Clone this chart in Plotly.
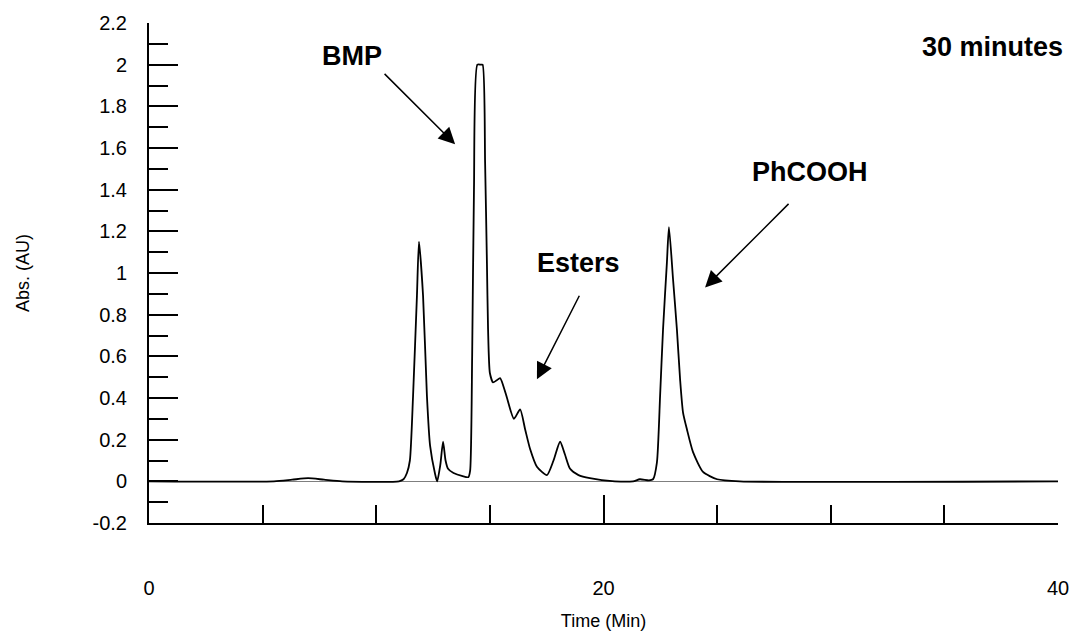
import plotly.graph_objects as go

# Chromatogram values (time in minutes, absorbance in AU)
time_min = [0, 5.5, 6.3, 7.0, 7.7, 8.5, 11.0, 11.2, 11.35, 11.48, 11.62, 11.79, 11.88,
            12.06, 12.23, 12.37, 12.58, 12.68, 12.82, 12.94, 13.05, 13.16, 13.4, 13.8,
            14.05, 14.13, 14.22, 14.3, 14.45, 14.6, 14.68, 14.79, 14.87, 14.92, 15.0,
            15.14, 15.3, 15.45, 15.7, 16.06, 16.33, 16.55, 16.77, 17.07, 17.51, 17.8,
            18.09, 18.3, 18.53, 18.9, 19.4, 20.5, 21.3, 21.6, 22.0, 22.18, 22.35, 22.49,
            22.62, 22.79, 22.88, 23.06, 23.23, 23.37, 23.5, 23.67, 23.94, 24.38, 25.0,
            26.0, 40.0]
absorbance = [0, 0, 0.008, 0.015, 0.008, 0, 0, 0.01, 0.04, 0.1, 0.41, 0.89, 1.15,
              0.89, 0.41, 0.17, 0.04, 0.0, 0.08, 0.19, 0.1, 0.06, 0.04, 0.025,
              0.02, 0.05, 0.6, 1.4, 2.0, 2.0, 2.0, 1.53, 1.05, 0.73, 0.52,
              0.475, 0.485, 0.495, 0.42, 0.30, 0.345, 0.25, 0.155, 0.07, 0.03, 0.1,
              0.19, 0.13, 0.06, 0.03, 0.015, 0.0, 0.0, 0.01, 0.005, 0.01, 0.09, 0.41,
              0.73, 1.05, 1.22, 0.97, 0.73, 0.49, 0.33, 0.25, 0.14, 0.045, 0.01,
              0.0, 0.0]

y_tickvals = [-0.2, 0, 0.2, 0.4, 0.6, 0.8, 1.0, 1.2, 1.4, 1.6, 1.8, 2.0, 2.2]
y_ticktext = ["-0.2", "0", "0.2", "0.4", "0.6", "0.8", "1", "1.2", "1.4", "1.6", "1.8", "2", "2.2"]
x_tickvals = [0, 20, 40]
x_ticktext = ["0", "20", "40"]

# labels: (text, x, y) and arrows: (tail x, tail y, head x, head y) in data units
peak_labels = [("BMP", 8.93, 2.04), ("Esters", 18.92, 1.047), ("PhCOOH", 29.09, 1.483),
               ("30 minutes", 37.1, 2.083)]
arrows = [(10.30, 1.963, 13.47, 1.618), (18.97, 0.898, 17.07, 0.49), (28.21, 1.339, 24.47, 0.931)]

FONT = "Liberation Sans, Arial, sans-serif"

fig = go.Figure()
fig.add_trace(go.Scatter(x=time_min, y=absorbance, mode="lines",
                         line=dict(color="black", width=1.8, shape="spline", smoothing=0.6),
                         showlegend=False, hoverinfo="skip"))

fig.update_layout(
    width=1074, height=639,
    margin=dict(l=149, r=16, t=23, b=116),
    plot_bgcolor="white", paper_bgcolor="white",
    font=dict(family=FONT, color="black"),
    showlegend=False,
)

fig.update_xaxes(
    range=[0, 40], showgrid=False, zeroline=False,
    showline=True, linecolor="black", linewidth=1.5,
    ticks="inside", ticklen=28, tickwidth=1.5, tickcolor="black",
    tickvals=x_tickvals, ticktext=x_ticktext,
    tickfont=dict(size=20, family=FONT),
    ticklabelstandoff=46,
    minor=dict(ticks="inside", ticklen=18, tickwidth=1.5, tickcolor="black", dtick=5, tick0=0),
    title=dict(text="Time (Min)", font=dict(size=18, family=FONT), standoff=17),
    automargin=False,
)
fig.update_yaxes(
    range=[-0.2, 2.2], showgrid=False,
    zeroline=True, zerolinecolor="#7f7f7f", zerolinewidth=1.2,
    showline=True, linecolor="black", linewidth=2,
    ticks="inside", ticklen=29, tickwidth=1.5, tickcolor="black",
    tickvals=y_tickvals, ticktext=y_ticktext,
    tickfont=dict(size=20, family=FONT),
    ticklabelstandoff=16,
    minor=dict(ticks="inside", ticklen=19, tickwidth=1.5, tickcolor="black", dtick=0.1, tick0=-0.2),
    title=dict(text="Abs. (AU)", font=dict(size=18, family=FONT), standoff=58),
    automargin=False,
)

for text, x, y in peak_labels:
    fig.add_annotation(x=x, y=y, text="<b>" + text + "</b>", showarrow=False,
                       font=dict(size=27, family=FONT, color="black"),
                       xanchor="center", yanchor="middle")

for x0, y0, x1, y1 in arrows:
    fig.add_annotation(x=x1, y=y1, ax=x0, ay=y0, xref="x", yref="y", axref="x", ayref="y",
                       text="", showarrow=True, arrowhead=2, arrowsize=2.2, arrowwidth=1.5,
                       arrowcolor="black")

fig.write_html("out.html")
